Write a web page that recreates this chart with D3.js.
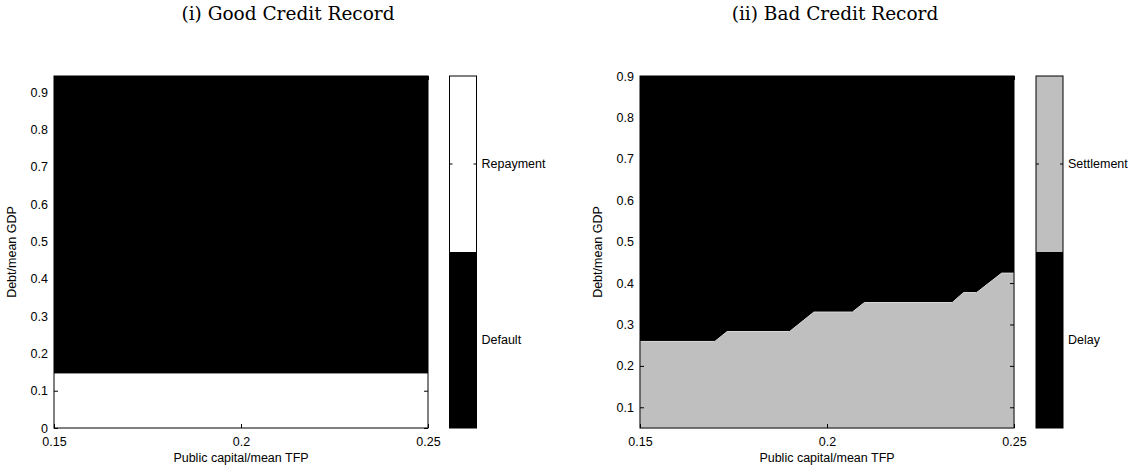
<!DOCTYPE html>
<html>
<head>
<meta charset="UTF-8">
<title>Credit record regions</title>
<script src="https://cdnjs.cloudflare.com/ajax/libs/d3/7.8.5/d3.min.js"></script>
<style>
    body { margin: 0; background: #fff; }
    .tick text, .lbl { font-family: "Liberation Sans", Arial, sans-serif; font-size: 12.5px; fill: #000; }
    .title { font-family: "DejaVu Serif", "Liberation Serif", serif; font-size: 18.5px; fill: #000; }
</style>
</head>
<body>
<div id="chart"></div>
<script>
// x grid limits shared by both panels
const xDomain = [0.15, 0.25];
const xTicks = [0.15, 0.2, 0.25];

// (i) good credit: boundary between repayment (below) and default (above)
const goodX = [0.15, 0.25];
const goodY = [0.145, 0.145];
const goodYTicks = [0, 0.1, 0.2, 0.3, 0.4, 0.5, 0.6, 0.7, 0.8, 0.9];
const goodCats = ["Repayment", "Default"];
const goodColors = ["#ffffff", "#000000"];

// (ii) bad credit: boundary between settlement (below) and delay (above)
const badX = [0.15, 0.170, 0.1733, 0.190, 0.1965, 0.2068, 0.2100, 0.2335, 0.2365, 0.2400, 0.2467, 0.25];
const badY = [0.259, 0.259, 0.283, 0.283, 0.330, 0.330, 0.353, 0.353, 0.377, 0.377, 0.424, 0.424];
const badYTicks = [0.1, 0.2, 0.3, 0.4, 0.5, 0.6, 0.7, 0.8, 0.9];
const badCats = ["Settlement", "Delay"];
const badColors = ["#bfbfbf", "#000000"];

const svg = d3.select("#chart").append("svg")
    .attr("width", 1141).attr("height", 470);

function panel(opt) {
    const g = svg.append("g").attr("transform", `translate(${opt.left},${opt.top})`);
    const w = opt.width, h = opt.height;
    const x = d3.scaleLinear().domain(xDomain).range([0, w]);
    const y = d3.scaleLinear().domain(opt.yDomain).range([h, 0]);

    // upper region (default / delay)
    g.append("rect").attr("width", w).attr("height", h).attr("fill", opt.colors[1]);

    // lower region under the boundary
    const pts = opt.bx.map((v, i) => [v, opt.by[i]]);
    g.append("path")
        .datum(pts)
        .attr("fill", opt.colors[0])
        .attr("stroke", opt.edge)
        .attr("stroke-width", 1)
        .attr("d", d3.area().x(d => x(d[0])).y0(h).y1(d => y(d[1])));

    // axes, ticks inside, mirrored
    const tl = 4;
    g.append("g").attr("transform", `translate(0,${h})`)
        .call(d3.axisBottom(x).tickValues(xTicks).tickSize(-tl).tickPadding(9).tickFormat(d3.format("~g")))
        .call(a => a.select(".domain").remove());
    g.append("g")
        .call(d3.axisTop(x).tickValues(xTicks).tickSize(-tl).tickFormat(""))
        .call(a => a.select(".domain").remove());
    g.append("g")
        .call(d3.axisLeft(y).tickValues(opt.yTicks).tickSize(-tl).tickPadding(6).tickFormat(d3.format("~g")))
        .call(a => a.select(".domain").remove());
    g.append("g").attr("transform", `translate(${w},0)`)
        .call(d3.axisRight(y).tickValues(opt.yTicks).tickSize(-tl).tickFormat(""))
        .call(a => a.select(".domain").remove());
    g.selectAll(".tick line").attr("stroke", "#000");
    g.selectAll(".tick text").style("font-size", "12.5px");

    g.append("rect").attr("width", w).attr("height", h)
        .attr("fill", "none").attr("stroke", "#000").attr("stroke-width", 1);

    g.append("text").attr("class", "lbl")
        .attr("x", w / 2).attr("y", h + 34).attr("text-anchor", "middle")
        .text("Public capital/mean TFP");
    g.append("text").attr("class", "lbl")
        .attr("transform", `translate(${opt.yLabelX},${h / 2}) rotate(-90)`)
        .attr("text-anchor", "middle")
        .text("Debt/mean GDP");

    svg.append("text").attr("class", "title")
        .attr("x", opt.titleX).attr("y", 20).attr("text-anchor", "middle")
        .text(opt.title);

    // colorbar
    const cb = svg.append("g").attr("transform", `translate(${opt.cbLeft},${opt.top})`);
    const cw = 27;
    const cy = d3.scaleBand().domain(opt.cats).range([0, h]);
    cb.selectAll("rect.cell").data(opt.cats).enter().append("rect")
        .attr("class", "cell")
        .attr("x", 0).attr("y", d => cy(d))
        .attr("width", cw).attr("height", cy.bandwidth())
        .attr("fill", (d, i) => opt.colors[i]);
    cb.selectAll("line.tl").data(opt.cats).enter().append("line")
        .attr("x1", 0).attr("x2", 3)
        .attr("y1", d => cy(d) + cy.bandwidth() / 2).attr("y2", d => cy(d) + cy.bandwidth() / 2)
        .attr("stroke", "#000");
    cb.selectAll("line.tr").data(opt.cats).enter().append("line")
        .attr("x1", cw - 3).attr("x2", cw)
        .attr("y1", d => cy(d) + cy.bandwidth() / 2).attr("y2", d => cy(d) + cy.bandwidth() / 2)
        .attr("stroke", "#000");
    cb.append("rect").attr("width", cw).attr("height", h)
        .attr("fill", "none").attr("stroke", "#000");
    cb.selectAll("text").data(opt.cats).enter().append("text")
        .attr("class", "lbl")
        .attr("x", cw + 5).attr("y", d => cy(d) + cy.bandwidth() / 2)
        .attr("dy", "0.35em")
        .text(d => d);
}

panel({
    left: 54, top: 76, width: 374, height: 352,
    yDomain: [0, 0.944], yTicks: goodYTicks,
    bx: goodX, by: goodY, colors: goodColors, edge: "#ffffff",
    cats: goodCats, cbLeft: 449.5, yLabelX: -38,
    title: "(i) Good Credit Record", titleX: 288
});

panel({
    left: 640, top: 76, width: 374, height: 352,
    yDomain: [0.05, 0.9], yTicks: badYTicks,
    bx: badX, by: badY, colors: badColors, edge: "#d9d9d9",
    cats: badCats, cbLeft: 1036, yLabelX: -38,
    title: "(ii) Bad Credit Record", titleX: 835
});
</script>
</body>
</html>
